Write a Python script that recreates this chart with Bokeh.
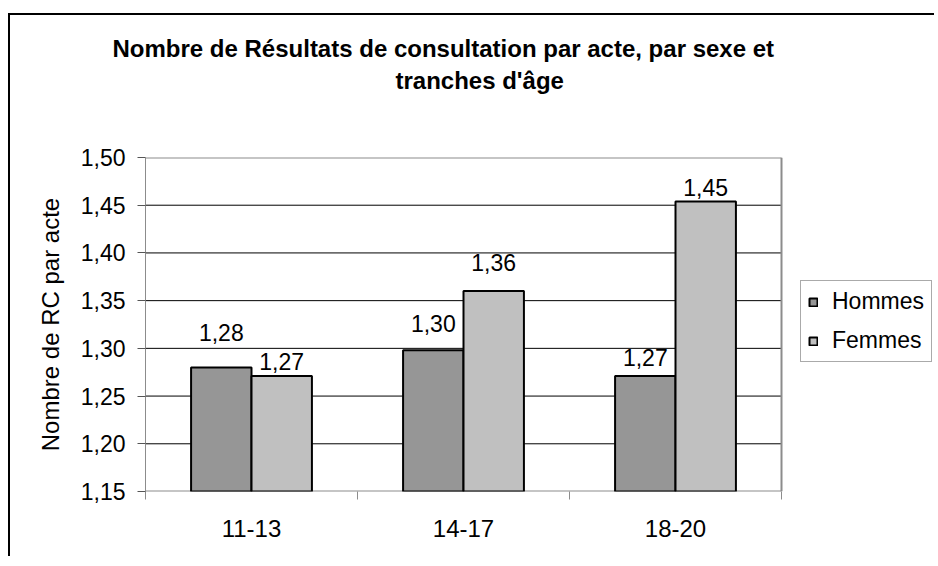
from bokeh.plotting import figure
from bokeh.models import (ColumnDataSource, FixedTicker, CustomJSTickFormatter,
                          Legend, LegendItem, Title, Range1d)
from bokeh.embed import file_html
from bokeh.resources import INLINE
from bokeh.core.properties import value

# ---- data ----
categories = ["11-13", "14-17", "18-20"]
series_names = ["Hommes", "Femmes"]
hommes = [1.280, 1.298, 1.271]
femmes = [1.271, 1.360, 1.454]
y_ticks = [1.15, 1.20, 1.25, 1.30, 1.35, 1.40, 1.45, 1.50]
title_lines = ["Nombre de Résultats de consultation par acte, par sexe et",
               "tranches d'âge"]
y_label = "Nombre de RC par acte"

# ---- style / layout ----
FONT = "Liberation Sans"
C_H = "#969696"
C_F = "#c0c0c0"
GREY = "#8c8c8c"
BAR_W = 0.285
DODGE = 0.1425
lift_h = [35, 27, 19]   # label lift above bar top (px)
lift_f = [15, 29, 14]

W, H = 926, 543
LEFT, TOP, BOTTOM = 135, 142, 67
PLOT_W = 636            # pixel width of the plotting area (categories)

def fmt(v):
    return f"{v:.2f}".replace(".", ",")

n = len(categories)
xc = [i + 0.5 for i in range(n)]
y0, y1 = y_ticks[0], y_ticks[-1]
src_h = ColumnDataSource(dict(x=[c - DODGE for c in xc], top=hommes,
                              lab=[fmt(v) for v in hommes], off=[-l for l in lift_h]))
src_f = ColumnDataSource(dict(x=[c + DODGE for c in xc], top=femmes,
                              lab=[fmt(v) for v in femmes], off=[-l for l in lift_f]))

x_end = n * (W - LEFT) / PLOT_W   # frame also hosts the legend on the right
p = figure(width=W, height=H, output_backend="svg", toolbar_location=None,
           x_range=Range1d(0, x_end), y_range=Range1d(y0, y1),
           min_border_left=LEFT, min_border_right=0, min_border_top=TOP,
           min_border_bottom=BOTTOM)
p.styles = {"margin-top": "13px", "margin-left": "8px",
            "border-top": "2px solid black", "border-left": "2px solid black"}
p.background_fill_color = "white"
p.border_fill_color = "white"
p.outline_line_color = None

# titles (first added is nearest to the frame)
p.title = None
t0 = Title(text=" ", text_font=FONT, text_font_size="24px", standoff=32)
t2 = Title(text=title_lines[1], align="left", offset=250, standoff=5,
           text_font=FONT, text_font_size="24px", text_font_style="bold",
           text_color="black")
t1 = Title(text=title_lines[0], align="left", offset=-33, standoff=2,
           text_font=FONT, text_font_size="24px", text_font_style="bold",
           text_color="black")
p.add_layout(t0, "above")
p.add_layout(t2, "above")
p.add_layout(t1, "above")

# grid lines and plot-area border, limited to the category span
p.xgrid.visible = False
p.ygrid.visible = False
inner = y_ticks[1:-1]
p.segment(x0=[0] * len(inner), x1=[n] * len(inner), y0=inner, y1=inner,
          line_color="black", line_width=1)
p.segment(x0=[0, n, 0], x1=[n, n, n], y0=[y1, y0, y0], y1=[y1, y1, y0],
          line_color=GREY, line_width=2)

rh = p.vbar(x="x", top="top", bottom=y0, width=BAR_W, source=src_h,
            fill_color=C_H, line_color="black", line_width=2)
rf = p.vbar(x="x", top="top", bottom=y0, width=BAR_W, source=src_f,
            fill_color=C_F, line_color="black", line_width=2)

for s in (src_h, src_f):
    p.text(x="x", y="top", text="lab", y_offset="off", source=s,
           text_align="center", text_baseline="middle",
           text_font=value(FONT), text_font_size="23px", text_color="black")

# y axis
ya = p.yaxis[0]
ya.ticker = FixedTicker(ticks=y_ticks)
ya.formatter = CustomJSTickFormatter(code="return tick.toFixed(2).replace('.', ',');")
ya.axis_label = y_label
ya.axis_label_text_font = FONT
ya.axis_label_text_font_size = "24px"
ya.axis_label_text_font_style = "normal"
ya.axis_label_text_color = "black"
ya.axis_label_standoff = 14
ya.major_label_text_font = FONT
ya.major_label_text_font_size = "23px"
ya.major_label_text_color = "black"
ya.major_label_standoff = 12
ya.major_tick_out = 8
ya.major_tick_in = 0
ya.minor_tick_line_color = None
ya.major_tick_line_color = "#555555"
ya.axis_line_color = GREY

# x axis: labels at centres, tick marks at category boundaries
xa = p.xaxis[0]
xa.ticker = FixedTicker(ticks=xc, minor_ticks=list(range(n + 1)))
xa.major_label_overrides = {x: c for x, c in zip(xc, categories)}
xa.major_label_text_font = FONT
xa.major_label_text_font_size = "24px"
xa.major_label_text_color = "black"
xa.major_label_standoff = 20
xa.major_tick_line_color = None
xa.minor_tick_out = 8
xa.minor_tick_in = 0
xa.minor_tick_line_color = GREY
xa.axis_line_color = None

legend = Legend(items=[LegendItem(label=series_names[0], renderers=[rh]),
                       LegendItem(label=series_names[1], renderers=[rf])],
                location=(655, 129), glyph_width=10, glyph_height=10,
                label_text_font=FONT, label_text_font_size="23px",
                label_text_color="black",
                label_standoff=14, spacing=12, padding=7,
                border_line_color="#555555", border_line_width=1,
                background_fill_alpha=1)
p.add_layout(legend, "center")

open("out.html", "w").write(file_html(p, INLINE))
